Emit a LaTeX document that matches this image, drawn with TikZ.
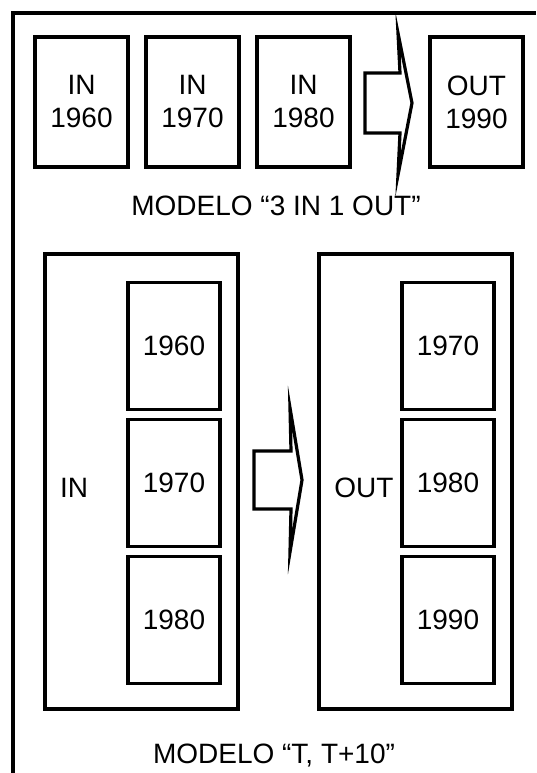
\documentclass[tikz,border=0pt]{standalone}
\usepackage{fontspec}
\setmainfont{Liberation Sans}
\usetikzlibrary{positioning}
\tikzset{
  yearbox/.style={draw,line width=3.2pt,outer sep=0pt,inner sep=0pt,minimum width=93pt,minimum height=130pt,align=center,font=\fontsize{28}{33}\selectfont},
  cellbox/.style={yearbox,minimum width=92pt,minimum height=127pt},
  groupbox/.style={draw,line width=3.2pt,outer sep=0pt,minimum width=193pt,minimum height=455pt},
  bigarrow/.style={line width=3.2pt,line join=miter,miter limit=30},
  framebox/.style={line width=3.2pt},
  caption/.style={font=\fontsize{28}{33}\selectfont},
  sidelabel/.style={font=\fontsize{28}{33}\selectfont}
}

\begin{document}
\begin{tikzpicture}[x=1pt,y=-1pt]
  \useasboundingbox (0,0) rectangle (536,773);
  \draw[framebox] (13,773) -- (13,13) -- (536,13);

  % upper model
  \node[yearbox] (in1960) at (81.5,102) {IN\\1960};
  \node[yearbox,right=18pt of in1960] (in1970) {IN\\1970};
  \node[yearbox,right=18pt of in1970] (in1980) {IN\\1980};
  \node[yearbox,right=80pt of in1980] (out1990) {OUT\\1990};
  \draw[bigarrow] (365,73) -- (400,73) -- (398,33) -- (412,103) -- (398,175) -- (400,133) -- (365,133) -- cycle;
  \node[caption] (capa) at (276,206) {MODELO “3 IN 1 OUT”};

  % lower model
  \node[groupbox] (ingroup) at (141.5,481.5) {};
  \node[cellbox] (c1970) at (174,483) {1970};
  \node[cellbox,above=10pt of c1970] (c1960) {1960};
  \node[cellbox,below=10pt of c1970] (c1980) {1980};
  \node[sidelabel] (inlbl) at (74,488) {IN};

  \node[groupbox] (outgroup) at (415.5,481.5) {};
  \node[cellbox] (d1980) at (448,483) {1980};
  \node[cellbox,above=10pt of d1980] (d1970) {1970};
  \node[cellbox,below=10pt of d1980] (d1990) {1990};
  \node[sidelabel] (outlbl) at (364,488) {OUT};

  \draw[bigarrow] (254,451) -- (291,451) -- (290,408) -- (302,480) -- (290,552) -- (291,509) -- (254,509) -- cycle;
  \node[caption] (capb) at (274,756) {MODELO “T, T+10”};
\end{tikzpicture}
\end{document}
